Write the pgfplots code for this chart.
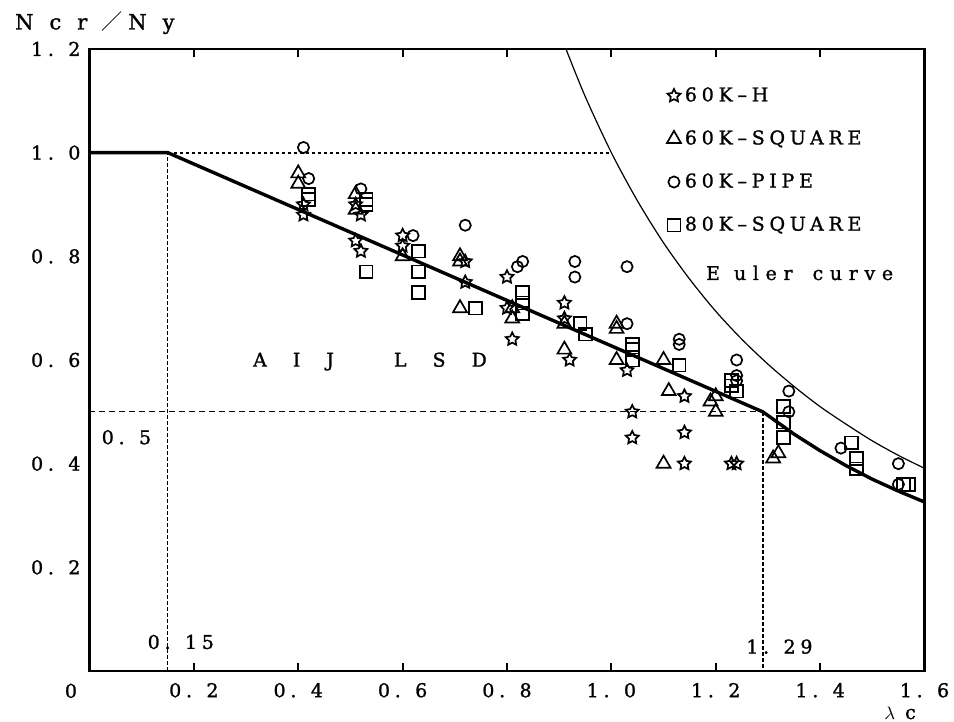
\documentclass[border=0pt]{standalone}
\usepackage{fontspec}
\setmainfont{DejaVu Serif}[LetterSpace=25, FakeBold=1.2]
\newfontfamily\widefont{DejaVu Serif}[LetterSpace=35, FakeBold=1.2]
\newfontfamily\cjk{Noto Sans CJK JP}
\usepackage{pgfplots}
\pgfplotsset{compat=1.18}

% hollow five-point star
\pgfdeclareplotmark{ostar}{%
  \pgfpathmoveto{\pgfpointpolar{90}{\pgfplotmarksize}}%
  \pgfpathlineto{\pgfpointpolar{126}{0.5\pgfplotmarksize}}%
  \pgfpathlineto{\pgfpointpolar{162}{\pgfplotmarksize}}%
  \pgfpathlineto{\pgfpointpolar{198}{0.5\pgfplotmarksize}}%
  \pgfpathlineto{\pgfpointpolar{234}{\pgfplotmarksize}}%
  \pgfpathlineto{\pgfpointpolar{270}{0.5\pgfplotmarksize}}%
  \pgfpathlineto{\pgfpointpolar{306}{\pgfplotmarksize}}%
  \pgfpathlineto{\pgfpointpolar{342}{0.5\pgfplotmarksize}}%
  \pgfpathlineto{\pgfpointpolar{18}{\pgfplotmarksize}}%
  \pgfpathlineto{\pgfpointpolar{54}{0.5\pgfplotmarksize}}%
  \pgfpathclose
  \pgfusepathqstroke
}

\begin{document}
\begin{tikzpicture}[every node/.style={font=\fontsize{9.5}{11}\selectfont}]
\begin{axis}[
  scale only axis,
  width=417.5pt, height=311pt,
  xmin=0, xmax=1.6, ymin=0, ymax=1.2,
  axis line style={line width=1.4pt},
  xtick={0.2,0.4,0.6,0.8,1.0,1.2,1.4,1.6},
  xticklabels={0. 2,0. 4,0. 6,0. 8,1. 0,1. 2,1. 4,1. 6},
  ytick={0.2,0.4,0.6,0.8,1.0,1.2},
  yticklabels={0. 2,0. 4,0. 6,0. 8,1. 0,1. 2},
  tick align=inside,
  major tick length=4pt,
  xtick style={line width=1pt, black},
  ytick style={draw=none},
  tick label style={font=\fontsize{9.5}{11}\selectfont},
  xticklabel style={yshift=-2.5pt},
  yticklabel style={xshift=-1pt},
  clip=false,
  legend style={draw=none, fill=none, at={(0.684,0.952)}, anchor=north west,
                font=\fontsize{9.5}{11}\selectfont, row sep=9pt},
  legend cell align=left,
]

% guide lines
\addplot[black, line width=0.5pt, dash pattern=on 2pt off 1pt, forget plot]
  coordinates {(0.15,0) (0.15,1.0)};
\addplot[black, line width=0.9pt, dash pattern=on 1.5pt off 1.5pt, forget plot]
  coordinates {(0.15,1.0) (1.0,1.0)};
\addplot[black, line width=0.55pt, dash pattern=on 3pt off 2pt, forget plot]
  coordinates {(0,0.5) (1.29,0.5)};
\addplot[black, line width=0.8pt, dash pattern=on 2pt off 1pt, forget plot]
  coordinates {(1.29,0.5) (1.29,0)};

% AIJ LSD
\addplot[black, line width=1.7pt, forget plot]
  coordinates {(0,1.0) (0.15,1.0) (1.29,0.5) (1.30,0.493) (1.35,0.457)
               (1.40,0.425) (1.45,0.396) (1.50,0.370) (1.55,0.347) (1.60,0.326)};

% Euler curve
\addplot[black, line width=0.6pt, smooth, forget plot]
  coordinates {(0.913,1.2) (0.95,1.108) (1.0,1.0) (1.05,0.907) (1.1,0.826)
               (1.15,0.756) (1.2,0.694) (1.25,0.640) (1.3,0.592) (1.35,0.549)
               (1.4,0.510) (1.45,0.476) (1.5,0.444) (1.55,0.416) (1.6,0.391)};

\addplot[only marks, mark=ostar, mark size=3.4pt,
         mark options={black, line width=0.85pt}]
  coordinates {(0.41,0.90) (0.41,0.88) (0.51,0.90) (0.52,0.88) (0.51,0.83)
               (0.52,0.81) (0.60,0.84) (0.60,0.82) (0.72,0.79) (0.72,0.75)
               (0.80,0.76) (0.80,0.70) (0.81,0.64) (0.91,0.71) (0.91,0.68)
               (0.92,0.60) (1.03,0.58) (1.04,0.50) (1.04,0.45) (1.14,0.53)
               (1.14,0.46) (1.14,0.40) (1.23,0.40) (1.24,0.40)};
\addlegendentry{60K–H}

\addplot[only marks, mark=triangle, mark size=4pt,
         mark options={black, line width=0.85pt}]
  coordinates {(0.40,0.96) (0.40,0.94) (0.51,0.92) (0.51,0.89) (0.60,0.80)
               (0.71,0.80) (0.71,0.79) (0.71,0.70) (0.81,0.70) (0.81,0.68)
               (0.91,0.67) (0.91,0.62) (1.01,0.67) (1.01,0.66) (1.01,0.60)
               (1.10,0.60) (1.11,0.54) (1.10,0.40) (1.20,0.53) (1.19,0.52)
               (1.20,0.50) (1.31,0.41) (1.32,0.42)};
\addlegendentry{60K–SQUARE}

\addplot[only marks, mark=o, mark size=2.8pt,
         mark options={black, line width=0.85pt}]
  coordinates {(0.41,1.01) (0.42,0.95) (0.52,0.93) (0.62,0.84) (0.72,0.86)
               (0.82,0.78) (0.83,0.79) (0.93,0.79) (0.93,0.76) (1.03,0.78)
               (1.03,0.67) (1.13,0.64) (1.13,0.63) (1.24,0.60) (1.24,0.57)
               (1.24,0.56) (1.34,0.54) (1.34,0.50) (1.44,0.43) (1.55,0.40)
               (1.55,0.36)};
\addlegendentry{60K–PIPE}

\addplot[only marks, mark=square, mark size=3.2pt,
         mark options={black, line width=0.85pt}]
  coordinates {(0.42,0.92) (0.42,0.91) (0.53,0.91) (0.53,0.90) (0.53,0.77)
               (0.63,0.81) (0.63,0.77) (0.63,0.73) (0.74,0.70) (0.83,0.73)
               (0.83,0.71) (0.83,0.69) (0.94,0.67) (0.95,0.65) (1.04,0.63)
               (1.04,0.62) (1.04,0.60) (1.13,0.59) (1.23,0.56) (1.23,0.55)
               (1.24,0.54) (1.33,0.51) (1.33,0.48) (1.33,0.45) (1.46,0.44)
               (1.47,0.41) (1.47,0.39) (1.56,0.36) (1.57,0.36)};
\addlegendentry{80K–SQUARE}

\node[anchor=west, font=\fontsize{10.5}{12}\selectfont] at (rel axis cs:-0.0975,1.042)
  {N\hspace{8pt}c\hspace{8pt}r\hspace{7pt}{\cjk ／}\hspace{3pt}N\hspace{8pt}y};
\node at (rel axis cs:-0.0222,-0.032) {0};
\node[anchor=base, inner sep=0pt] at (rel axis cs:0.9707,-0.0772) {$\lambda$\hspace{5pt}c};
\node[anchor=west] at (axis cs:0.010,0.451) {0. 5};
\node[anchor=west] at (axis cs:0.098,0.056) {0. 15};
\node[anchor=west] at (axis cs:1.245,0.047) {1. 29};
\node[anchor=west] at (axis cs:0.300,0.597)
  {A\hspace{13pt}I\hspace{13pt}J\hspace{30pt}L\hspace{13pt}S\hspace{13pt}D};
\node[anchor=west, font=\fontsize{9.5}{11}\widefont] at (axis cs:1.168,0.768)
  {E\hspace{7pt}uler\hspace{10pt}curve};
\end{axis}
\pgfresetboundingbox
\path[use as bounding box] (-44.75pt,-25.5pt) rectangle (432.25pt,335.5pt);
\end{tikzpicture}
\end{document}
